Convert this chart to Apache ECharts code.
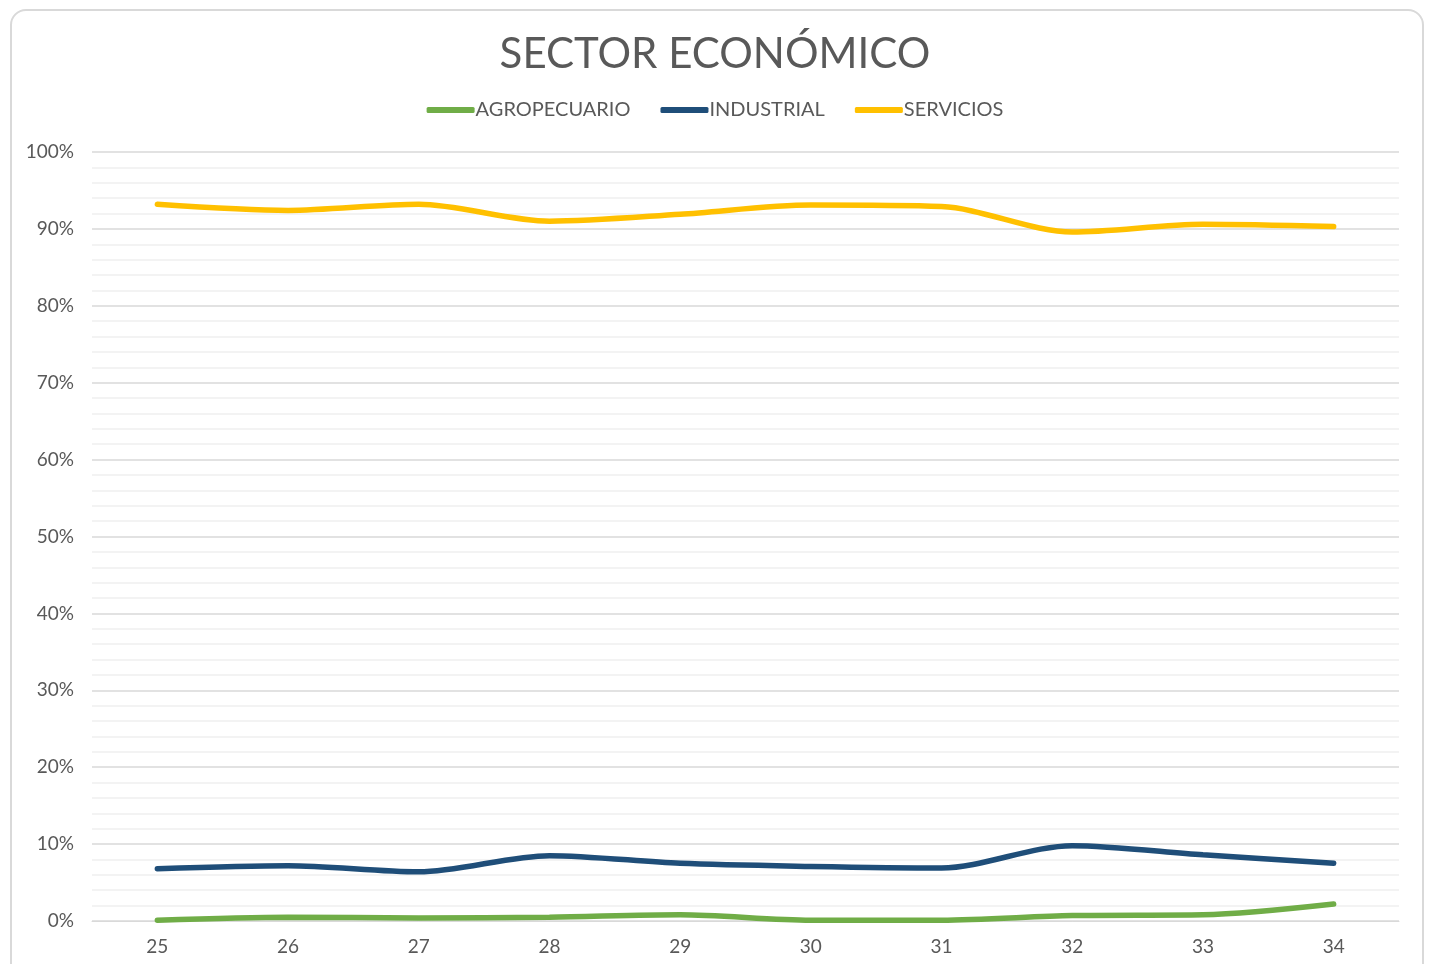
<!DOCTYPE html>
<html>
<head>
<meta charset="utf-8">
<script src="https://cdn.jsdelivr.net/npm/echarts@6/dist/echarts.min.js"></script>
<style>
  html, body { margin: 0; padding: 0; background: #fff; }
  #frame {
    position: absolute; left: 10px; top: 9px; width: 1414px; height: 980px;
    border: 2px solid #d9d9d9; border-radius: 16px; box-sizing: border-box;
  }
  #chart { position: absolute; left: 0; top: 0; width: 1430px; height: 964px; }
</style>
</head>
<body>
<div id="frame"></div>
<div id="chart"></div>
<script>
const categories = ['25', '26', '27', '28', '29', '30', '31', '32', '33', '34'];
const agropecuario = [0.1, 0.5, 0.4, 0.5, 0.8, 0.1, 0.1, 0.7, 0.8, 2.2];
const industrial = [6.8, 7.2, 6.4, 8.5, 7.5, 7.1, 6.9, 9.8, 8.6, 7.5];
const servicios = [93.2, 92.4, 93.2, 91.0, 91.9, 93.1, 92.9, 89.6, 90.6, 90.3];

const textColor = '#595959';
const fontFamily = 'Lato, "Open Sans", sans-serif';

const chart = echarts.init(document.getElementById('chart'), null, { renderer: 'canvas' });

function lineSeries(name, data, color) {
  return {
    name: name,
    type: 'line',
    data: data,
    smooth: 0.3,
    symbol: 'none',
    lineStyle: { color: color, width: 5.5, cap: 'round' },
    itemStyle: { color: color }
  };
}

chart.setOption({
  animation: false,
  textStyle: { fontFamily: fontFamily },
  title: {
    text: 'SECTOR ECONÓMICO',
    left: 'center',
    top: 28,
    textStyle: { color: textColor, fontSize: 42, fontWeight: 'normal', fontFamily: fontFamily }
  },
  legend: {
    top: 95,
    left: 'center',
    itemWidth: 48,
    itemHeight: 6,
    itemGap: 30,
    icon: 'roundRect',
    textStyle: { color: textColor, fontSize: 20, padding: [0, 0, 0, -4] },
    data: ['AGROPECUARIO', 'INDUSTRIAL', 'SERVICIOS']
  },
  grid: { left: 92, right: 31, top: 152, bottom: 43 },
  xAxis: {
    type: 'category',
    data: categories,
    boundaryGap: true,
    axisLine: { show: true, lineStyle: { color: '#d9d9d9', width: 1 } },
    axisTick: { show: false },
    axisLabel: { color: textColor, fontSize: 19, margin: 16 }
  },
  yAxis: {
    type: 'value',
    min: 0,
    max: 100,
    interval: 10,
    axisLine: { show: false },
    axisTick: { show: false },
    axisLabel: { color: textColor, fontSize: 19, margin: 18, formatter: '{value}%' },
    splitLine: { lineStyle: { color: '#d9d9d9', width: 1.5 } },
    minorTick: { show: false, splitNumber: 5 },
    minorSplitLine: { show: true, lineStyle: { color: '#f0f0f0', width: 1.5 } }
  },
  series: [
    lineSeries('AGROPECUARIO', agropecuario, '#70ad47'),
    lineSeries('INDUSTRIAL', industrial, '#1f4e79'),
    lineSeries('SERVICIOS', servicios, '#ffc000')
  ]
});
</script>
</body>
</html>
